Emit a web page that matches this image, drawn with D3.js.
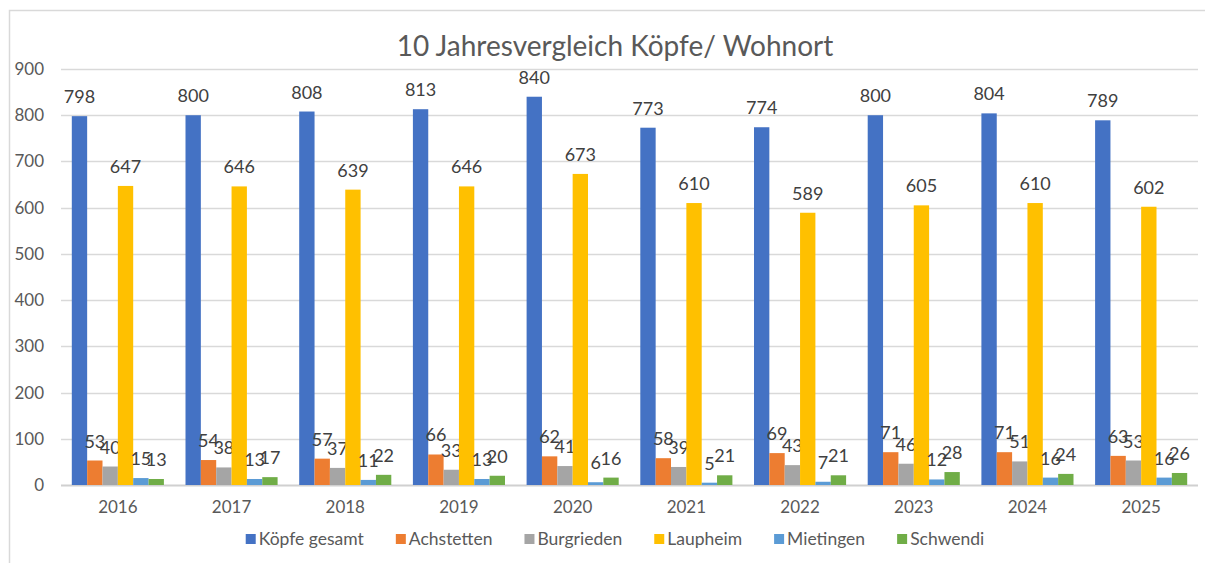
<!DOCTYPE html>
<meta charset="utf-8">
<style>
body { margin: 0; background: #fff; }
svg { font-family: Lato, "Open Sans", sans-serif; }
</style>
<svg id="chart" width="1205" height="563"></svg>
<script src="https://cdn.jsdelivr.net/npm/d3@7"></script>
<script>
// data
var years = ["2016", "2017", "2018", "2019", "2020", "2021", "2022", "2023", "2024", "2025"];
var seriesNames = ["Köpfe gesamt", "Achstetten", "Burgrieden", "Laupheim", "Mietingen", "Schwendi"];
var koepfe     = [798, 800, 808, 813, 840, 773, 774, 800, 804, 789];
var achstetten = [53, 54, 57, 66, 62, 58, 69, 71, 71, 63];
var burgrieden = [40, 38, 37, 33, 41, 39, 43, 46, 51, 53];
var laupheim   = [647, 646, 639, 646, 673, 610, 589, 605, 610, 602];
var mietingen  = [15, 13, 11, 13, 6, 5, 7, 12, 16, 16];
var schwendi   = [13, 17, 22, 20, 16, 21, 21, 28, 24, 26];
var yTicks = [0, 100, 200, 300, 400, 500, 600, 700, 800, 900];

var seriesValues = [koepfe, achstetten, burgrieden, laupheim, mietingen, schwendi];
var colors = d3.scaleOrdinal().domain(seriesNames)
    .range(["#4472C4", "#ED7D31", "#A5A5A5", "#FFC000", "#5B9BD5", "#70AD47"]);

var svg = d3.select("#chart");
var plot = {left: 61, right: 1198, top: 69, bottom: 485};

// chart frame (Excel style)
svg.append("rect")
    .attr("x", 9.5).attr("y", 10.5)
    .attr("width", 1250).attr("height", 600)
    .attr("fill", "none").attr("stroke", "#d9d9d9").attr("stroke-width", 1.5);

var x = d3.scaleBand().domain(years).range([plot.left, plot.right])
    .paddingInner(0.19).paddingOuter(0.095);
var xs = d3.scaleBand().domain(seriesNames).range([0, x.bandwidth()]);
var y = d3.scaleLinear().domain([0, 900]).range([plot.bottom, plot.top]);

// gridlines
svg.append("g").selectAll("line")
    .data(yTicks)
  .enter().append("line")
    .attr("x1", plot.left).attr("x2", plot.right)
    .attr("y1", function(d) { return Math.round(y(d)) + 0.5; })
    .attr("y2", function(d) { return Math.round(y(d)) + 0.5; })
    .attr("stroke", function(d) { return d === 0 ? "#d0d0d0" : "#d9d9d9"; })
    .attr("stroke-width", function(d) { return d === 0 ? 2 : 1.5; });

// y axis labels
var yAxis = svg.append("g")
    .attr("transform", "translate(" + (plot.left - 17) + ",0)")
    .call(d3.axisLeft(y).tickValues(yTicks).tickSize(0).tickPadding(0));
yAxis.select(".domain").remove();
yAxis.selectAll("text").attr("font-size", 17).attr("fill", "#595959")
    .attr("font-family", "Lato, sans-serif");

// x axis labels
var xAxis = svg.append("g")
    .attr("transform", "translate(0," + plot.bottom + ")")
    .call(d3.axisBottom(x).tickSize(0).tickPadding(16));
xAxis.select(".domain").remove();
xAxis.selectAll("text").attr("font-size", 17).attr("fill", "#595959")
    .attr("font-family", "Lato, sans-serif");

// bars
var groups = svg.append("g").selectAll("g")
    .data(years)
  .enter().append("g")
    .attr("transform", function(d) { return "translate(" + x(d) + ",0)"; });

var cells = groups.selectAll("g")
    .data(function(yr, i) {
      return seriesNames.map(function(s, k) { return {name: s, value: seriesValues[k][i]}; });
    })
  .enter().append("g");

cells.append("rect")
    .attr("x", function(d) { return xs(d.name); })
    .attr("width", xs.bandwidth())
    .attr("y", function(d) { return y(d.value); })
    .attr("height", function(d) { return y(0) - y(d.value); })
    .attr("fill", function(d) { return colors(d.name); });

// value labels above each bar (they overlap on the small bars, as in the original)
cells.append("text")
    .attr("x", function(d) { return xs(d.name) + xs.bandwidth() / 2; })
    .attr("y", function(d) { return y(d.value) - 13; })
    .attr("text-anchor", "middle")
    .attr("font-size", 18)
    .attr("fill", "#404040")
    .text(function(d) { return d.value; });

// title
svg.append("text")
    .attr("x", 615).attr("y", 56)
    .attr("text-anchor", "middle")
    .attr("font-size", 28)
    .attr("fill", "#595959")
    .text("10 Jahresvergleich Köpfe/ Wohnort");

// legend, laid out by measured text width and centred
var legend = svg.append("g").attr("font-size", 17.5).attr("fill", "#595959");
var items = legend.selectAll("g").data(seriesNames).enter().append("g");
items.append("rect").attr("width", 10).attr("height", 10).attr("y", -11)
    .attr("fill", function(d) { return colors(d); });
items.append("text").attr("x", 13).attr("y", 0).attr("fill", "#595959").text(function(d) { return d; });
var pos = 0, offsets = [];
items.each(function() {
  offsets.push(pos);
  pos += 13 + d3.select(this).select("text").node().getComputedTextLength() + 32;
});
pos -= 32;
items.attr("transform", function(d, i) { return "translate(" + offsets[i] + ",0)"; });
legend.attr("transform", "translate(" + (615 - pos / 2) + ",545)");
</script>
